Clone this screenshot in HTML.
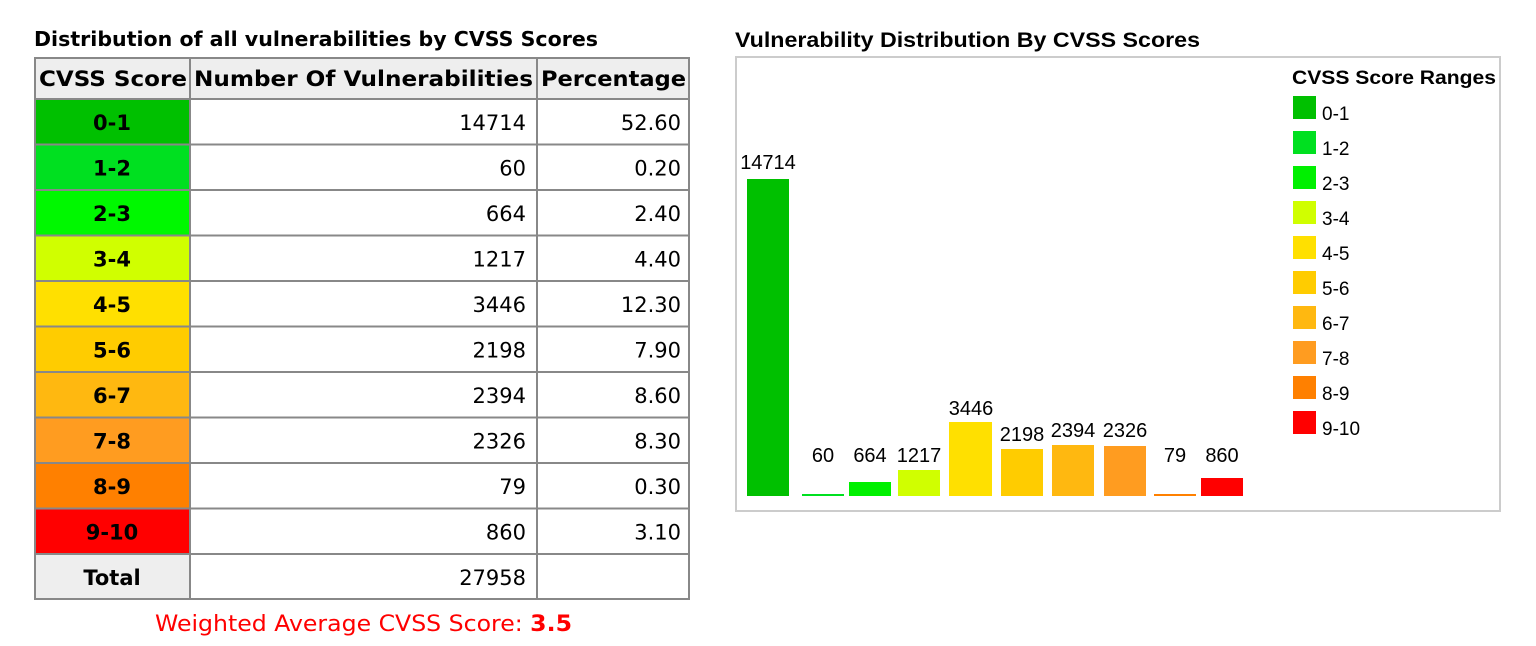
<!DOCTYPE html>
<html><head><meta charset="utf-8"><style>
html,body{margin:0;padding:0;background:#fff;width:1536px;height:646px;overflow:hidden}
svg text{font-family:"DejaVu Sans",Verdana,sans-serif}
.a{font-family:"Liberation Sans",Arial,sans-serif !important}
</style></head><body>
<svg width="1536" height="646" viewBox="0 0 1536 646" xmlns="http://www.w3.org/2000/svg">
<text x="34" y="46" font-size="20" font-weight="bold" textLength="564" lengthAdjust="spacingAndGlyphs">Distribution of all vulnerabilities by CVSS Scores</text>
<rect x="34" y="57" width="656" height="42" fill="#eeeeee"/>
<rect x="34" y="99" width="156" height="45.5" fill="#00c000"/>
<rect x="34" y="144.5" width="156" height="45.5" fill="#00e020"/>
<rect x="34" y="190" width="156" height="45.5" fill="#00f800"/>
<rect x="34" y="235.5" width="156" height="45.5" fill="#d0ff00"/>
<rect x="34" y="281" width="156" height="45.5" fill="#ffe000"/>
<rect x="34" y="326.5" width="156" height="45.5" fill="#ffcc00"/>
<rect x="34" y="372" width="156" height="45.5" fill="#ffb810"/>
<rect x="34" y="417.5" width="156" height="45.5" fill="#ff9c20"/>
<rect x="34" y="463" width="156" height="45.5" fill="#ff8000"/>
<rect x="34" y="508.5" width="156" height="45.5" fill="#ff0000"/>
<rect x="34" y="554" width="156" height="45.5" fill="#eeeeee"/>
<g stroke="#888" stroke-width="2" fill="none">
<rect x="35" y="58" width="654" height="541"/>
<line x1="190" y1="57" x2="190" y2="600"/>
<line x1="537" y1="57" x2="537" y2="600"/>
<line x1="34" y1="99" x2="690" y2="99"/>
<line x1="34" y1="144.5" x2="690" y2="144.5"/>
<line x1="34" y1="190" x2="690" y2="190"/>
<line x1="34" y1="235.5" x2="690" y2="235.5"/>
<line x1="34" y1="281" x2="690" y2="281"/>
<line x1="34" y1="326.5" x2="690" y2="326.5"/>
<line x1="34" y1="372" x2="690" y2="372"/>
<line x1="34" y1="417.5" x2="690" y2="417.5"/>
<line x1="34" y1="463" x2="690" y2="463"/>
<line x1="34" y1="508.5" x2="690" y2="508.5"/>
<line x1="34" y1="554" x2="690" y2="554"/>
</g>
<g font-size="21" font-weight="bold">
<text x="39" y="86" textLength="148" lengthAdjust="spacingAndGlyphs">CVSS Score</text>
<text x="194" y="86" textLength="339" lengthAdjust="spacingAndGlyphs">Number Of Vulnerabilities</text>
<text x="541" y="86" textLength="145" lengthAdjust="spacingAndGlyphs">Percentage</text>
</g>
<g font-size="21" font-weight="bold" text-anchor="middle">
<text x="112" y="130">0-1</text><text x="112" y="175.5">1-2</text><text x="112" y="221">2-3</text>
<text x="112" y="266.5">3-4</text><text x="112" y="312">4-5</text><text x="112" y="357.5">5-6</text>
<text x="112" y="403">6-7</text><text x="112" y="448.5">7-8</text><text x="112" y="494">8-9</text>
<text x="112" y="539.5">9-10</text><text x="112" y="585">Total</text>
</g>
<g font-size="21" text-anchor="end">
<text x="526" y="130">14714</text><text x="681" y="130">52.60</text>
<text x="526" y="175.5">60</text><text x="681" y="175.5">0.20</text>
<text x="526" y="221">664</text><text x="681" y="221">2.40</text>
<text x="526" y="266.5">1217</text><text x="681" y="266.5">4.40</text>
<text x="526" y="312">3446</text><text x="681" y="312">12.30</text>
<text x="526" y="357.5">2198</text><text x="681" y="357.5">7.90</text>
<text x="526" y="403">2394</text><text x="681" y="403">8.60</text>
<text x="526" y="448.5">2326</text><text x="681" y="448.5">8.30</text>
<text x="526" y="494">79</text><text x="681" y="494">0.30</text>
<text x="526" y="539.5">860</text><text x="681" y="539.5">3.10</text>
<text x="526" y="585">27958</text>
</g>
<text x="155" y="631" font-size="22" fill="#ff0000" textLength="417" lengthAdjust="spacingAndGlyphs">Weighted Average CVSS Score: <tspan font-weight="bold">3.5</tspan></text>

<text class="a" x="735" y="47" font-size="21" font-weight="bold" textLength="465" lengthAdjust="spacingAndGlyphs">Vulnerability Distribution By CVSS Scores</text>
<rect x="736" y="57" width="764" height="454" fill="none" stroke="#cccccc" stroke-width="2"/>
<rect x="747" y="179" width="42" height="317" fill="#00c000"/>
<rect x="802" y="494" width="42" height="2" fill="#00e020"/>
<rect x="849" y="482" width="42" height="14" fill="#00f000"/>
<rect x="898" y="470" width="42" height="26" fill="#d0ff00"/>
<rect x="949" y="422" width="43" height="74" fill="#ffe000"/>
<rect x="1001" y="449" width="42" height="47" fill="#ffcc00"/>
<rect x="1052" y="445" width="42" height="51" fill="#ffb810"/>
<rect x="1104" y="446" width="42" height="50" fill="#ff9c20"/>
<rect x="1154" y="494" width="42" height="2" fill="#ff8000"/>
<rect x="1201" y="478" width="42" height="18" fill="#ff0000"/>
<g font-size="20" text-anchor="middle">
<text class="a" x="768" y="169">14714</text>
<text class="a" x="823" y="462">60</text>
<text class="a" x="870" y="462">664</text>
<text class="a" x="919" y="462">1217</text>
<text class="a" x="971" y="415">3446</text>
<text class="a" x="1022" y="441">2198</text>
<text class="a" x="1073" y="437">2394</text>
<text class="a" x="1125" y="437">2326</text>
<text class="a" x="1175" y="462">79</text>
<text class="a" x="1222" y="462">860</text>
</g>
<text class="a" x="1292" y="84" font-size="19" font-weight="bold" textLength="204" lengthAdjust="spacingAndGlyphs">CVSS Score Ranges</text>
<g>
<rect x="1293" y="96" width="23" height="23" fill="#00c000"/>
<rect x="1293" y="131" width="23" height="23" fill="#00e020"/>
<rect x="1293" y="166" width="23" height="23" fill="#00f000"/>
<rect x="1293" y="201" width="23" height="23" fill="#d0ff00"/>
<rect x="1293" y="236" width="23" height="23" fill="#ffe000"/>
<rect x="1293" y="271" width="23" height="23" fill="#ffcc00"/>
<rect x="1293" y="306" width="23" height="23" fill="#ffb810"/>
<rect x="1293" y="341" width="23" height="23" fill="#ff9c20"/>
<rect x="1293" y="376" width="23" height="23" fill="#ff8000"/>
<rect x="1293" y="411" width="23" height="23" fill="#ff0000"/>
</g>
<g font-size="19">
<text class="a" x="1322" y="120">0-1</text>
<text class="a" x="1322" y="155">1-2</text>
<text class="a" x="1322" y="190">2-3</text>
<text class="a" x="1322" y="225">3-4</text>
<text class="a" x="1322" y="260">4-5</text>
<text class="a" x="1322" y="295">5-6</text>
<text class="a" x="1322" y="330">6-7</text>
<text class="a" x="1322" y="365">7-8</text>
<text class="a" x="1322" y="400">8-9</text>
<text class="a" x="1322" y="435">9-10</text>
</g>
</svg>
</body></html>
